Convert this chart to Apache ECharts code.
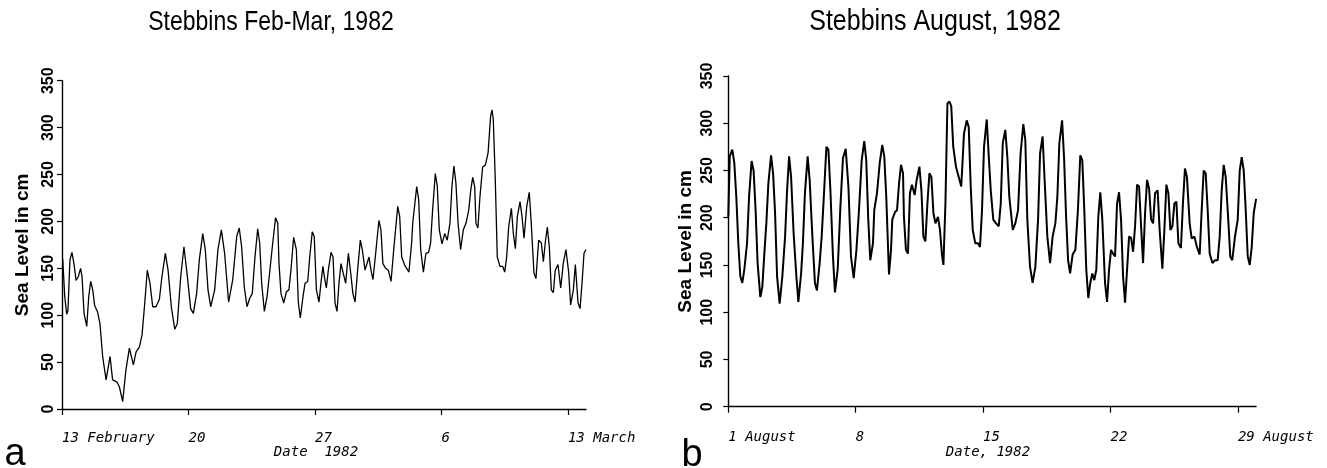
<!DOCTYPE html>
<html><head><meta charset="utf-8">
<script src="https://cdn.jsdelivr.net/npm/echarts@6/dist/echarts.min.js"></script>
<style>html,body{margin:0;padding:0;background:#fff}#c{width:1327px;height:468px}</style>
</head><body><div id="c"></div><script>
// Days since 13 February 1982 00h
const febDays = [0.04,0.15,0.26,0.33,0.44,0.55,0.66,0.78,0.90,1.03,1.11,1.22,1.37,1.48,1.59,1.70,1.81,1.96,2.10,2.25,2.44,2.66,2.80,3.03,3.17,3.36,3.54,3.73,3.95,4.10,4.28,4.43,4.58,4.72,4.87,5.02,5.20,5.39,5.53,5.72,5.87,6.05,6.24,6.38,6.57,6.75,6.94,7.12,7.27,7.45,7.60,7.79,7.93,8.08,8.23,8.45,8.63,8.82,9.00,9.22,9.45,9.67,9.81,
9.94,10.09,10.24,10.39,10.53,10.68,10.83,10.94,11.05,11.20,11.35,11.49,11.64,11.82,11.94,12.01,12.12,12.27,12.42,12.56,12.67,12.82,12.97,13.08,13.19,13.34,13.45,13.60,13.71,13.85,13.96,14.08,14.22,14.33,14.44,14.52,14.63,14.74,14.89,15.00,15.11,15.22,15.33,15.44,15.55,15.70,15.85,15.96,16.10,16.22,16.36,16.51,16.62,16.77,16.88,16.99,17.10,17.21,17.36,17.54,17.65,17.76,17.91,18.06,18.21,18.36,18.58,18.69,18.80,18.95,19.06,19.20,19.35,
19.41,19.63,19.74,19.85,20.00,20.14,20.29,20.40,20.51,20.66,20.77,20.88,21.03,21.18,21.32,21.47,21.58,21.69,21.80,21.92,22.06,22.21,22.36,22.51,22.62,22.73,22.84,22.91,23.02,23.13,23.28,23.43,23.58,23.72,23.80,23.87,23.98,24.09,24.24,24.39,24.50,24.61,24.72,24.87,24.98,25.09,25.20,25.35,25.46,25.57,25.72,25.86,25.97,26.12,26.23,26.38,26.53,26.64,26.75,26.86,26.97,27.08,27.19,27.30,27.45,27.60,27.74,27.89,28.04,28.15,28.30,28.41,28.56,28.67,28.78,28.89,29.00];
const febLevels = [160,120,101,105,159,167,155,137,141,150,141,102,88,120,136,127,110,104,91,56,31,56,31,29,24,8,42,65,47,61,66,79,113,148,134,109,109,117,141,166,148,109,85,91,141,173,141,107,102,123,159,187,170,127,109,127,170,191,166,114,138,184,193,
173,130,109,118,123,162,192,177,134,104,120,145,173,204,198,155,123,113,125,127,148,183,170,113,97,120,134,136,162,189,184,127,114,134,152,141,129,148,167,162,113,104,134,155,146,134,166,148,123,114,148,180,170,148,155,162,148,138,166,201,191,155,150,148,136,170,216,205,162,154,155,146,177,
198,237,223,170,146,166,167,177,212,251,237,191,176,187,180,198,237,259,241,198,170,191,198,212,233,247,237,198,193,226,258,260,273,312,319,308,244,162,152,152,146,162,194,214,187,171,205,221,205,182,216,231,198,145,139,180,177,157,178,194,173,127,124,148,154,129,155,170,146,111,127,154,113,107,134,166,170];

// Days since 1 August 1982 00h
const augDays = [0.00,0.08,0.22,0.33,0.44,0.55,0.66,0.77,0.88,1.03,1.14,1.28,1.39,1.50,1.61,1.76,1.87,1.98,2.09,2.20,2.35,2.46,2.57,2.68,2.82,2.97,3.12,3.23,3.34,3.45,3.59,3.74,3.85,4.00,4.10,4.21,4.36,4.47,4.62,4.76,4.87,5.02,5.13,5.24,5.39,5.50,5.61,5.75,5.86,6.01,6.16,6.30,6.45,6.60,6.74,6.89,7.04,7.18,7.33,7.47,7.58,7.69,7.80,7.95,8.02,8.17,8.32,8.46,8.57,8.68,8.83,8.94,9.01,9.16,9.27,9.38,9.49,9.60,
9.65,9.76,9.87,9.98,10.09,10.24,10.35,10.50,10.61,10.72,10.83,10.94,11.05,11.16,11.27,11.38,11.52,11.63,11.74,11.82,11.93,12.04,12.15,12.25,12.36,12.51,12.66,12.80,12.95,13.10,13.21,13.32,13.43,13.57,13.72,13.83,13.94,14.05,14.20,14.31,14.42,14.56,14.71,14.86,14.97,15.08,15.22,15.33,15.44,15.63,15.77,15.92,16.06,16.21,16.32,16.43,16.58,16.72,16.87,17.02,17.13,17.27,17.38,17.53,17.68,17.82,17.97,18.08,18.19,18.34,18.45,18.56,18.67,18.78,18.92,19.07,19.21,
19.34,19.45,19.56,19.67,19.78,19.89,20.00,20.11,20.22,20.33,20.44,20.55,20.70,20.81,20.92,21.03,21.14,21.25,21.36,21.47,21.58,21.69,21.80,21.91,22.02,22.13,22.24,22.35,22.46,22.57,22.68,22.79,22.90,23.01,23.12,23.23,23.34,23.45,23.59,23.70,23.85,23.96,24.07,24.18,24.29,24.40,24.51,24.62,24.73,24.87,24.98,25.09,25.20,25.35,25.46,25.61,25.75,25.90,26.01,26.12,26.23,26.34,26.45,26.60,26.74,26.89,27.00,27.11,27.22,27.33,27.47,27.58,27.69,27.84,27.99,28.10,28.21,28.32,28.43,28.54,28.65,28.76,28.87,29.00];
const augLevels = [201,265,272,258,222,173,138,131,145,173,222,260,250,208,152,116,127,162,194,236,266,247,205,138,109,138,180,229,265,243,183,138,111,141,173,226,265,240,180,131,123,152,180,219,275,272,229,159,121,145,212,263,273,233,159,136,166,208,261,281,261,198,155,173,208,226,258,277,265,222,140,166,198,206,208,236,256,247,
201,166,162,226,235,224,240,254,229,180,175,215,247,243,205,194,201,187,161,150,215,321,323,318,275,254,243,233,289,303,296,233,187,173,173,169,208,275,304,265,229,198,194,191,215,279,293,265,222,187,194,208,268,299,282,198,148,131,148,198,268,286,240,180,152,180,194,222,279,303,263,201,155,141,161,166,208,
266,261,208,145,115,131,141,134,145,201,227,198,131,111,145,166,162,159,215,227,198,138,110,145,180,179,164,191,235,233,191,152,205,240,231,198,194,226,229,187,146,187,235,226,187,191,215,217,173,168,215,252,243,194,178,180,169,161,208,250,247,208,162,152,155,155,180,229,256,243,198,159,155,180,198,250,264,250,208,159,150,169,205,220];

const tickDays = [0, 7, 14, 21, 28];
const febTickLabels = ['13 February', '20', '27', '6', '13 March'];
const augTickLabels = ['1 August', '8', '15', '22', '29 August'];
const titles = ['Stebbins Feb-Mar, 1982', 'Stebbins August, 1982'];
const xNames = ['Date  1982', 'Date, 1982'];
const yName = 'Sea Level in cm';

const chart = echarts.init(document.getElementById('c'), null, {renderer: 'canvas'});

function xAxis(idx, labels, margin) {
  return {
    type: 'value', gridIndex: idx, min: 0, max: 29,
    axisLine: {show: true, onZero: false, lineStyle: {color: '#000', width: 1.4}},
    axisTick: {show: true, customValues: tickDays, length: 6, lineStyle: {color: '#000', width: 1.2}},
    axisLabel: {
      customValues: tickDays, align: 'left', margin: margin,
      formatter: v => labels[tickDays.indexOf(v)] || '',
      fontFamily: 'DejaVu Sans Mono', fontStyle: 'italic', fontSize: 14, color: '#000'
    },
    splitLine: {show: false}
  };
}
function yAxis(idx, margin, gap) {
  return {
    type: 'value', gridIndex: idx, min: 0, max: 350, interval: 50,
    name: yName, nameLocation: 'middle', nameGap: gap,
    nameTextStyle: {fontFamily: 'Liberation Sans', fontWeight: 'bold', fontSize: 19, color: '#000'},
    axisLine: {show: true, lineStyle: {color: '#000', width: 1.4}},
    axisTick: {show: true, length: 5, lineStyle: {color: '#000', width: 1.2}},
    axisLabel: {rotate: 90, margin: margin, fontFamily: 'Liberation Sans', fontWeight: 'bold', fontSize: 16, color: '#000'},
    splitLine: {show: false}
  };
}
function txt(text, x, y, size, opts, extra) {
  return Object.assign({type: 'text', x: x, y: y, silent: true,
    style: Object.assign({text: text, fill: '#000', fontFamily: 'Liberation Sans', fontSize: size,
      align: 'center', verticalAlign: 'middle', textAlign: 'center', textVerticalAlign: 'middle'}, opts || {})}, extra || {});
}

chart.setOption({
  animation: false,
  backgroundColor: '#fff',
  grid: [
    {left: 62, top: 80.7, width: 524, height: 328.3},
    {left: 728.3, top: 76, width: 527.8, height: 330.7}
  ],
  xAxis: [xAxis(0, febTickLabels, 22), xAxis(1, augTickLabels, 24)],
  yAxis: [yAxis(0, 5, 30), yAxis(1, 13, 33)],
  series: [
    {type: 'line', xAxisIndex: 0, yAxisIndex: 0, showSymbol: false, symbol: 'none',
     lineStyle: {color: '#000', width: 1.3}, data: febDays.map((d, i) => [d, febLevels[i]])},
    {type: 'line', xAxisIndex: 1, yAxisIndex: 1, showSymbol: false, symbol: 'none',
     lineStyle: {color: '#000', width: 2}, data: augDays.map((d, i) => [d, augLevels[i]])}
  ],
  graphic: [
    txt(titles[0], 271, 22, 23, null, {scaleY: 1.2}),
    txt(titles[1], 935, 22, 25, null, {scaleY: 1.15}),
    txt(xNames[0], 316, 452, 14, {fontFamily: 'DejaVu Sans Mono', fontStyle: 'italic'}),
    txt(xNames[1], 988, 452, 14, {fontFamily: 'DejaVu Sans Mono', fontStyle: 'italic'}),
    txt('a', 15, 455, 38),
    txt('b', 692, 456, 38)
  ]
});
</script></body></html>
